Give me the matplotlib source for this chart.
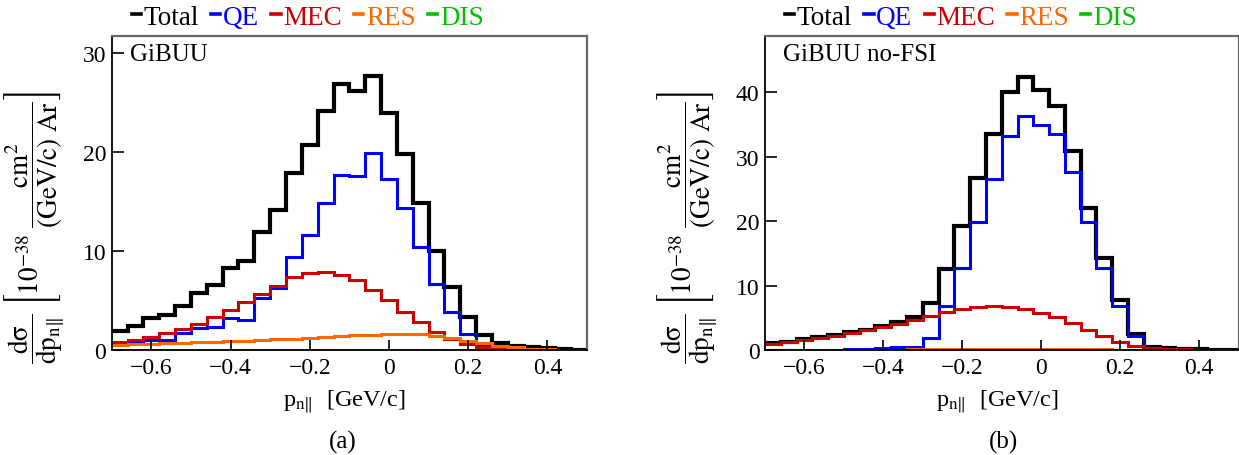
import numpy as np
import matplotlib
matplotlib.use('Agg')
from matplotlib import pyplot as plt

plt.rcParams['font.family'] = ['Liberation Serif', 'DejaVu Serif']
plt.rcParams['mathtext.fontset'] = 'stix'

# 30 bins of 0.04 GeV/c between -0.7 and 0.5
bin_edges = np.linspace(-0.7, 0.5, 31)

channels = ['Total', 'QE', 'MEC', 'RES', 'DIS']
colors = ['#000000', '#0000ff', '#cc0000', '#ff6600', '#00c000']
widths = [3.0, 2.2, 2.2, 2.2, 2.0]

# GiBUU (with FSI), 10^-38 cm^2 / (GeV/c) Ar
fsi_total = [1.95, 2.39, 3.2, 3.53, 4.47, 5.72, 6.56, 8.24, 9.01, 11.94,
             14.13, 17.86, 20.72, 24.15, 26.84, 26.1, 27.6, 23.9, 19.78, 14.83,
             10.02, 6.32, 3.3, 1.51, 0.71, 0.44, 0.27, 0.17, 0.07, 0.03]
fsi_qe = [0.6, 0.7, 1.0, 1.0, 1.7, 2.2, 2.3, 3.2, 3.05, 5.2,
          6.3, 9.35, 11.6, 14.8, 17.7, 17.5, 19.85, 17.25, 14.3, 10.4,
          6.66, 3.87, 1.6, 0.44, 0.17, 0.08, 0.04, 0.03, 0.02, 0.01]
fsi_mec = [0.77, 1.0, 1.28, 1.7, 2.1, 2.6, 3.3, 4.0, 4.8, 5.6,
           6.5, 7.33, 7.74, 7.9, 7.57, 7.06, 6.09, 5.08, 3.8, 2.8,
           1.78, 1.1, 0.6, 0.34, 0.15, 0.08, 0.03, 0.02, 0.01, 0.01]
fsi_res = [0.55, 0.6, 0.64, 0.7, 0.74, 0.8, 0.85, 0.9, 0.95, 1.0,
           1.07, 1.15, 1.25, 1.32, 1.4, 1.48, 1.55, 1.62, 1.66, 1.62,
           1.45, 1.2, 0.95, 0.7, 0.45, 0.28, 0.15, 0.08, 0.04, 0.02]
fsi_dis = [0.04] * 30

# GiBUU without FSI
nofsi_total = [1.03, 1.3, 1.7, 1.97, 2.33, 2.74, 3.16, 3.78, 4.4, 5.07,
               7.24, 12.57, 19.19, 26.7, 33.6, 40.1, 42.4, 40.35, 37.9, 30.9,
               22.1, 14.3, 7.8, 2.48, 0.41, 0.26, 0.15, 0.1, 0.05, 0.03]
nofsi_qe = [0.02, 0.02, 0.03, 0.04, 0.05, 0.08, 0.15, 0.35, 0.4, 0.45,
            1.86, 6.78, 12.8, 19.9, 26.6, 33.3, 36.3, 35.0, 33.5, 27.6,
            19.8, 12.8, 6.78, 2.12, 0.26, 0.05, 0.03, 0.02, 0.01, 0.01]
nofsi_mec = [0.95, 1.2, 1.6, 1.9, 2.25, 2.65, 3.05, 3.5, 4.0, 4.6,
             5.3, 5.9, 6.4, 6.7, 6.85, 6.75, 6.4, 5.8, 5.1, 4.2,
             3.1, 2.1, 1.2, 0.65, 0.3, 0.15, 0.08, 0.04, 0.02, 0.01]
nofsi_res = [0.02, 0.02, 0.03, 0.03, 0.04, 0.05, 0.05, 0.06, 0.07, 0.08,
             0.09, 0.1, 0.11, 0.12, 0.13, 0.14, 0.14, 0.14, 0.13, 0.12,
             0.1, 0.08, 0.06, 0.04, 0.02, 0.01, 0.01, 0.0, 0.0, 0.0]
nofsi_dis = [0.02] * 30

ylabel = (r'$\dfrac{\mathrm{d\sigma}}{\mathrm{dp}_{\mathrm{n}\|}}\ '
          r'\left[10^{\mathrm{-38}}\ \dfrac{\mathrm{cm}^{2}}{\mathrm{(GeV/c)\ Ar}}\right]$')
xlabel = r'p$_{\mathrm{n}\|}$  [GeV/c]'

W, H = 1239, 456
fig = plt.figure(figsize=(W / 100, H / 100), dpi=100)


def make_panel(left_px, right_px, series, ymax, yticks, tag, sublabel, sub_x):
    width_px = right_px - left_px
    ax = fig.add_axes([left_px / W, (H - 351) / H, width_px / W, 314.3 / H])
    for vals, name, c, lw in zip(series, channels, colors, widths):
        ax.stairs(vals, bin_edges, baseline=None, color=c, linewidth=lw, label=name)

    ax.set_xlim(-0.7, 0.5)
    ax.set_ylim(0, ymax)
    ax.set_xticks([-0.6, -0.4, -0.2, 0.0, 0.2, 0.4])
    ax.set_xticklabels(['\u22120.6', '\u22120.4', '\u22120.2', '0', '0.2', '0.4'])
    ax.set_yticks(yticks)
    ax.tick_params(axis='both', direction='in', labelsize=17, width=1.2,
                   top=False, right=False)
    ax.tick_params(axis='x', length=7, pad=5)
    ax.tick_params(axis='y', length=8.5, pad=4)
    for side in ['left', 'bottom']:
        ax.spines[side].set_color('black')
        ax.spines[side].set_linewidth(1.3)
    for side in ['top', 'right']:
        ax.spines[side].set_color('#666666')
        ax.spines[side].set_linewidth(1.6)

    # y title sits low and far left of the frame
    ax.set_ylabel(ylabel, fontsize=19.5, va='center')
    ax.yaxis.set_label_coords(-77.0 / width_px, 0.392)
    ax.set_xlabel(xlabel, fontsize=17.5, va='center')
    ax.xaxis.set_label_coords(0.49, -0.16)

    ax.text(0.038, 0.942, tag, transform=ax.transAxes, fontsize=18, va='center')

    leg = ax.legend(ncol=5, loc='center left', bbox_to_anchor=(0.042, 1.0 + 18.5 / 314.3),
                    frameon=False, fontsize=19.5, handlelength=0.34, handletextpad=0.1,
                    columnspacing=0.45, borderpad=0, borderaxespad=0,
                    labelcolor=colors)
    for h in leg.legend_handles:
        h.set_linewidth(2.6)

    fig.text(sub_x / W, (H - 442) / H, sublabel, fontsize=18, ha='center', va='center')
    return ax


make_panel(111.7, 587, [fsi_total, fsi_qe, fsi_mec, fsi_res, fsi_dis],
           31.7, [0, 10, 20, 30], 'GiBUU', '(a)', 343)
make_panel(765, 1238.5, [nofsi_total, nofsi_qe, nofsi_mec, nofsi_res, nofsi_dis],
           48.8, [0, 10, 20, 30, 40], 'GiBUU no-FSI', '(b)', 1003)

fig.savefig('out.png', dpi=100)
